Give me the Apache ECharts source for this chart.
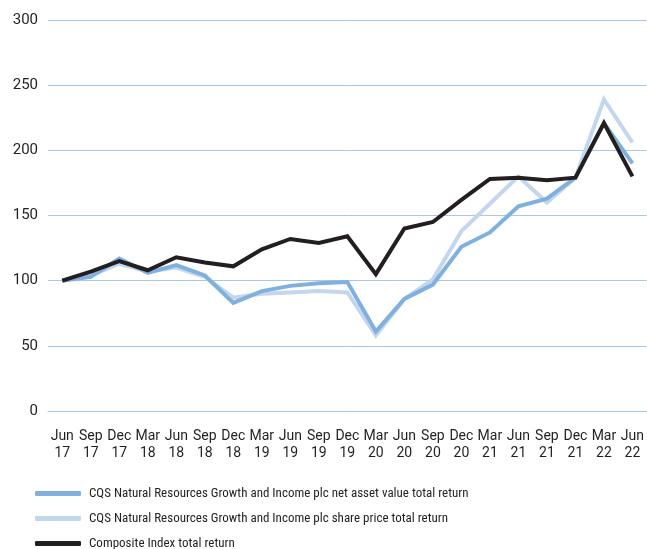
<!DOCTYPE html>
<html><head><meta charset="utf-8">
<script src="https://cdn.jsdelivr.net/npm/echarts@6/dist/echarts.min.js"></script>
<style>html,body{margin:0;padding:0;background:#fff}#c{width:647px;height:549px}</style>
</head><body><div id="c"></div>
<script>
var categories = ['Jun\n17','Sep\n17','Dec\n17','Mar\n18','Jun\n18','Sep\n18','Dec\n18','Mar\n19','Jun\n19','Sep\n19','Dec\n19','Mar\n20','Jun\n20','Sep\n20','Dec\n20','Mar\n21','Jun\n21','Sep\n21','Dec\n21','Mar\n22','Jun\n22'];
var navValues = [100,103,117,106,112,104,83,92,96,98,99,61,86,97,126,137,157,163,179,221,190];
var shareValues = [100,104,113,107,110,103,87,90,91,92,91,58,86,101,138,159,180,160,179,239,206];
var indexValues = [100,107,115,108,118,114,111,124,132,129,134,105,140,145,162,178,179,177,179,221,180];
var names = ['CQS Natural Resources Growth and Income plc net asset value total return','CQS Natural Resources Growth and Income plc share price total return','Composite Index total return'];
var font = 'Roboto, sans-serif';
var narrow = '"Roboto Condensed", "Liberation Sans Narrow", Roboto, sans-serif';
var chart = echarts.init(document.getElementById('c'));
function mk(name, data, color, z){
  return {name:name, type:'line', data:data, symbol:'none', z:z,
    lineStyle:{color:color, width:4, join:'miter'}, itemStyle:{color:color}};
}
function lg(name, top){
  return {orient:'horizontal', left:30, top:top, itemWidth:46, itemHeight:5, icon:'roundRect',
    textStyle:{fontFamily:narrow, fontSize:13, color:'#231f20', padding:[0,0,0,3]}, data:[name]};
}
chart.setOption({
  animation:false,
  grid:{left:48, width:600, top:20, height:391},
  legend:[lg(names[0],482), lg(names[1],507), lg(names[2],532)],
  xAxis:{type:'category', data:categories, boundaryGap:true,
    axisLine:{show:true, lineStyle:{color:'#a9c8e8', width:1}}, axisTick:{show:false},
    axisLabel:{interval:0, margin:17, fontFamily:font, fontSize:14, color:'#231f20', lineHeight:17}},
  yAxis:{type:'value', min:0, max:300, interval:50,
    axisLine:{show:false}, axisTick:{show:false},
    splitLine:{lineStyle:{color:'#a9c8e8', width:1}},
    axisLabel:{margin:10, fontFamily:font, fontSize:15, color:'#231f20'}},
  series:[
    mk(names[0], navValues, '#80b1de', 3),
    mk(names[1], shareValues, '#c2d6ee', 2),
    mk(names[2], indexValues, '#231f20', 4)
  ]
});
</script></body></html>
